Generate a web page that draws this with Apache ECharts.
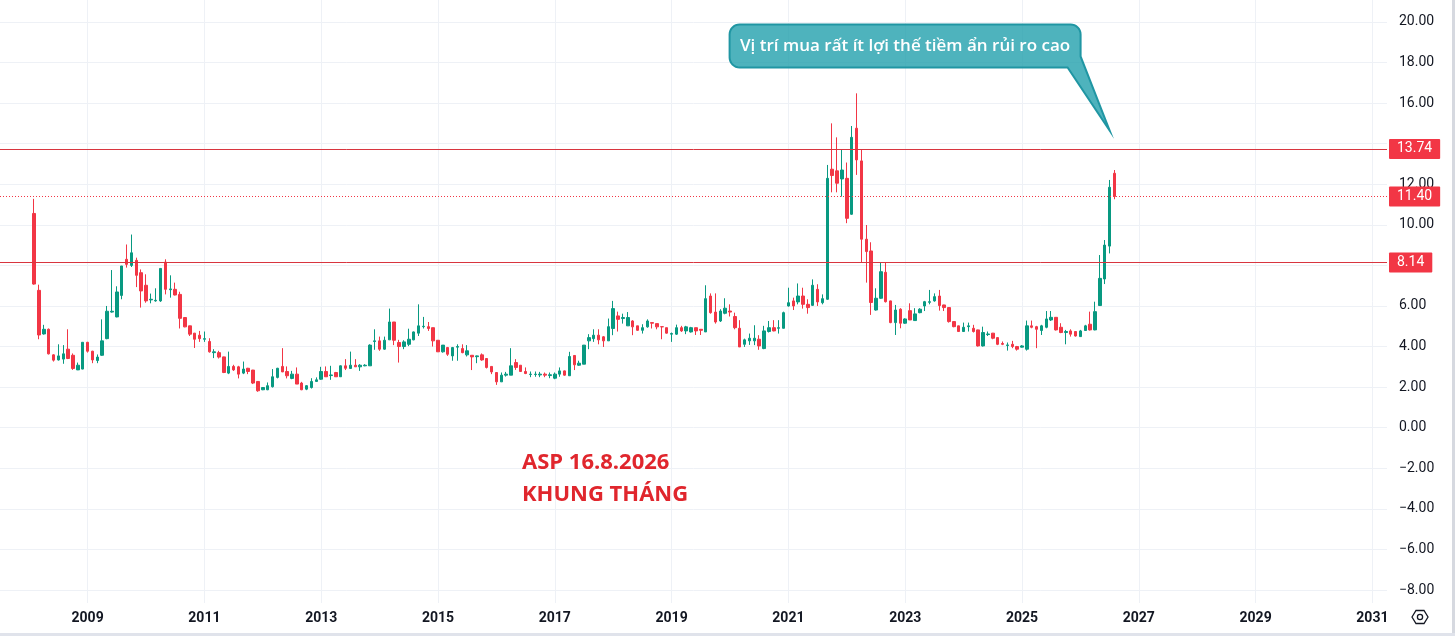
<!DOCTYPE html>
<html><head><meta charset="utf-8">
<script src="https://cdn.jsdelivr.net/npm/echarts@6/dist/echarts.min.js"></script>
<style>html,body{margin:0;padding:0;background:#fff;overflow:hidden}#c{width:1455px;height:636px}</style>
</head><body><div id="c"></div>
<script>
// ---- data (monthly candles, Feb 2008 .. Aug 2026) ----
const firstMonth = '2008-02';
const open = [
  10.56, 6.77, 4.62, 4.85, 3.59, 3.34, 3.38, 3.87, 3.57, 2.85, 2.89,
  4.21, 3.77, 3.31, 3.57, 4.39, 5.70, 5.46, 6.52, 8.30, 8.00, 8.25, 7.64,
  7.02, 6.30, 6.25, 6.25, 8.16, 6.80, 6.82, 6.57, 5.43, 5.02, 4.66, 4.56,
  4.36, 4.25, 3.70, 3.70, 3.49, 2.69, 3.02, 3.00, 2.69, 2.93, 2.84, 2.28,
  1.87, 1.87, 2.02, 2.48, 3.02, 2.77, 2.43, 2.64, 2.20, 1.90, 1.98, 2.28,
  2.39, 2.77, 2.57, 2.72, 2.51, 3.05, 2.92, 3.08, 3.00, 3.05, 3.05, 4.25,
  4.28, 3.87, 4.33, 5.21, 4.20, 4.00, 4.11, 4.33, 4.66, 4.98, 4.98, 4.93,
  4.31, 3.74, 3.95, 3.54, 3.97, 3.90, 3.59, 3.57, 3.50, 3.59, 3.41, 3.02,
  2.72, 2.26, 2.59, 2.59, 3.21, 3.08, 2.77, 2.62, 2.62, 2.60, 2.64, 2.57,
  2.44, 2.64, 2.80, 2.56, 3.56, 3.08, 3.13, 4.28, 4.39, 4.56, 4.48, 4.28,
  4.89, 5.51, 5.38, 5.02, 5.26, 5.02, 4.80, 4.97, 5.18, 5.13, 4.98, 4.93,
  4.61, 4.61, 4.93, 4.77, 4.72, 4.93, 4.85, 4.72, 6.49, 5.70, 5.26, 5.64,
  5.75, 5.48, 4.90, 4.11, 4.28, 4.28, 4.36, 3.90, 4.74, 4.93, 4.90, 4.90,
  6.00, 6.25, 6.20, 6.49, 6.08, 6.03, 6.82, 6.16, 6.33, 12.74, 12.66, 12.26,
  12.29, 10.52, 14.76, 13.15, 9.29, 8.71, 5.80, 6.38, 7.66, 6.25, 5.18, 5.84,
  5.15, 5.77, 5.28, 5.67, 6.00, 6.18, 6.25, 6.49, 6.05, 5.92, 5.23, 5.02,
  4.74, 4.98, 4.90, 4.82, 4.03, 4.59, 4.66, 4.44, 4.15, 4.05, 4.11, 4.00,
  3.97, 3.87, 5.02, 4.98, 4.79, 4.95, 5.31, 5.44, 4.95, 4.69, 4.77, 4.74,
  4.49, 4.79, 5.10, 4.82, 6.02, 7.33, 8.95, 12.54
];
const high = [
  11.28, 7.05, 5.07, 4.89, 3.62, 4.11, 4.07, 4.85, 3.66, 3.21, 4.21,
  4.23, 3.79, 3.61, 5.34, 6.00, 7.77, 6.97, 7.97, 9.03, 9.52, 8.38, 7.80,
  7.56, 6.61, 6.87, 7.85, 8.30, 7.51, 7.15, 6.70, 5.45, 5.03, 4.67, 4.77,
  4.74, 4.41, 3.87, 3.79, 3.50, 3.75, 3.10, 3.05, 3.26, 2.95, 2.85, 2.30,
  2.00, 2.23, 2.89, 2.95, 3.92, 3.02, 2.80, 2.97, 2.26, 2.10, 2.44, 2.48,
  3.00, 3.02, 3.05, 2.75, 3.07, 3.38, 3.75, 3.38, 3.13, 3.13, 4.11, 4.85,
  4.49, 4.49, 5.87, 5.21, 4.33, 4.31, 4.88, 4.74, 6.08, 5.46, 5.21, 4.93,
  4.31, 4.07, 3.98, 3.98, 4.11, 4.11, 4.07, 3.57, 3.56, 3.66, 3.41, 3.02,
  2.72, 2.72, 2.75, 3.92, 3.38, 3.08, 2.97, 2.77, 2.77, 2.75, 2.72, 2.72,
  2.72, 2.97, 2.82, 3.74, 3.56, 3.30, 4.07, 4.61, 4.85, 4.85, 4.52, 5.38,
  6.25, 5.72, 5.62, 5.70, 5.30, 5.02, 5.10, 5.34, 5.18, 5.13, 4.98, 4.93,
  4.69, 5.08, 5.02, 5.02, 4.97, 4.93, 4.85, 7.02, 6.62, 6.62, 5.84, 6.38,
  6.08, 5.67, 5.30, 4.39, 4.64, 5.05, 4.56, 5.02, 5.26, 5.30, 5.30, 5.72,
  6.90, 6.41, 7.11, 6.90, 6.33, 7.31, 7.07, 6.57, 12.95, 15.00, 14.31, 13.69,
  13.07, 14.87, 16.48, 13.69, 9.99, 9.14, 6.87, 8.14, 8.14, 6.26, 6.05, 5.89,
  5.39, 6.13, 5.89, 5.89, 6.25, 6.79, 6.62, 6.79, 6.06, 5.93, 5.24, 5.03,
  5.18, 5.18, 5.07, 4.83, 4.98, 4.74, 4.67, 4.45, 4.25, 4.20, 4.28, 4.03,
  4.07, 5.28, 5.28, 5.02, 5.07, 5.75, 5.75, 5.45, 5.15, 4.82, 4.85, 4.76,
  4.82, 5.07, 5.72, 6.21, 8.51, 9.25, 12.21, 12.70
];
const low = [
  7.05, 4.36, 4.59, 3.61, 3.26, 3.31, 3.15, 3.38, 2.85, 2.84, 2.88,
  3.70, 3.18, 3.18, 3.54, 4.36, 5.67, 5.44, 6.33, 7.89, 7.92, 6.93, 5.92,
  6.16, 6.13, 6.21, 6.20, 6.57, 6.41, 6.52, 4.89, 4.95, 4.52, 3.93, 4.23,
  4.23, 3.70, 3.43, 3.41, 2.69, 2.64, 2.80, 2.43, 2.64, 2.64, 2.15, 1.77,
  1.85, 1.85, 1.98, 2.43, 2.74, 2.43, 2.39, 2.15, 1.85, 1.85, 1.93, 2.26,
  2.36, 2.50, 2.36, 2.50, 2.50, 2.84, 2.90, 3.00, 2.80, 3.03, 3.05, 3.84,
  3.79, 3.84, 4.33, 4.07, 3.21, 3.87, 4.02, 4.31, 4.52, 4.89, 4.77, 4.00,
  3.74, 3.70, 3.54, 3.30, 3.30, 3.67, 3.51, 2.84, 3.18, 3.30, 2.92, 2.64,
  2.11, 2.26, 2.52, 2.59, 2.85, 2.75, 2.64, 2.49, 2.51, 2.49, 2.49, 2.44,
  2.39, 2.51, 2.56, 2.56, 2.84, 3.05, 3.13, 3.87, 4.23, 4.11, 3.98, 4.28,
  4.56, 4.74, 5.13, 5.02, 4.56, 4.77, 4.64, 4.93, 4.89, 4.85, 4.36, 4.64,
  4.23, 4.57, 4.72, 4.61, 4.69, 4.57, 4.57, 4.72, 5.62, 5.13, 5.21, 5.59,
  5.48, 4.85, 3.98, 3.98, 4.08, 4.07, 3.84, 3.87, 4.69, 4.75, 4.64, 4.89,
  5.97, 5.80, 6.08, 5.87, 5.62, 6.00, 6.00, 6.08, 6.30, 11.60, 11.60, 11.39,
  10.08, 10.49, 12.46, 8.14, 7.15, 5.56, 5.77, 6.35, 6.17, 5.15, 4.57, 4.90,
  5.12, 5.31, 5.28, 5.64, 5.75, 6.08, 6.21, 5.77, 5.75, 5.18, 4.95, 4.74,
  4.73, 4.74, 4.69, 4.00, 4.00, 4.52, 4.36, 4.07, 4.07, 3.80, 3.92, 3.80,
  3.95, 3.80, 4.90, 3.92, 4.57, 4.90, 5.26, 4.79, 4.66, 4.11, 4.49, 4.49,
  4.48, 4.77, 4.79, 4.80, 6.00, 7.08, 8.59, 11.26
];
const close = [
  7.08, 4.57, 4.85, 3.64, 3.33, 3.54, 3.64, 3.41, 2.92, 3.08, 4.21,
  3.77, 3.34, 3.48, 4.28, 5.74, 5.74, 6.69, 7.97, 8.05, 8.62, 7.51, 6.74,
  6.25, 6.33, 6.28, 7.85, 6.82, 6.84, 6.54, 5.39, 4.97, 4.61, 4.36, 4.39,
  4.39, 3.74, 3.74, 3.48, 2.72, 3.02, 2.85, 2.64, 2.89, 2.77, 2.20, 1.82,
  1.98, 2.07, 2.51, 2.93, 2.75, 2.56, 2.64, 2.15, 1.87, 2.07, 2.28, 2.36,
  2.77, 2.51, 2.60, 2.51, 3.05, 2.93, 3.08, 3.00, 3.08, 3.08, 4.07, 4.28,
  3.87, 4.31, 5.21, 4.31, 4.00, 4.23, 4.36, 4.72, 5.02, 5.00, 4.89, 4.28,
  3.74, 4.07, 3.62, 3.95, 4.00, 3.70, 3.79, 3.49, 3.54, 3.34, 2.97, 2.75,
  2.26, 2.59, 2.64, 3.05, 2.97, 2.77, 2.67, 2.64, 2.64, 2.64, 2.59, 2.61,
  2.64, 2.80, 2.59, 3.51, 3.10, 3.18, 4.07, 4.44, 4.56, 4.33, 4.28, 4.98,
  5.87, 5.34, 5.43, 5.43, 4.97, 4.80, 4.93, 5.26, 5.15, 4.97, 4.97, 4.66,
  4.64, 4.93, 4.77, 4.97, 4.93, 4.77, 4.80, 6.36, 5.67, 5.21, 5.75, 5.89,
  5.70, 4.93, 3.98, 4.33, 4.41, 4.41, 4.03, 4.77, 4.93, 4.77, 4.93, 5.67,
  6.16, 6.00, 6.49, 6.08, 5.92, 7.02, 6.20, 6.36, 12.29, 12.43, 12.05, 12.70,
  10.32, 14.31, 13.20, 9.29, 8.68, 6.17, 6.38, 7.69, 6.21, 5.18, 5.80, 5.15,
  5.36, 5.31, 5.61, 5.84, 6.21, 6.21, 6.46, 6.02, 5.92, 5.23, 4.98, 4.74,
  4.95, 5.02, 4.74, 4.03, 4.69, 4.62, 4.41, 4.11, 4.11, 4.08, 4.00, 3.87,
  4.03, 5.02, 4.95, 4.85, 5.02, 5.36, 5.44, 4.82, 4.69, 4.74, 4.61, 4.52,
  4.77, 5.02, 4.82, 5.72, 7.36, 9.00, 11.85, 11.40
];
const levels = [13.74, 8.14];        // horizontal levels drawn by the author
const lastPrice = 11.40;             // last close (dotted price line)
const hiddenTicks = [14];            // tick label covered by the 13.74 price box
const calloutText = 'Vị trí mua rất ít lợi thế tiềm ẩn rủi ro cao';
const calloutAnchor = ['2026-07', 14.65];
const titleLines = ['ASP 16.8.2026', 'KHUNG THÁNG'];

// ---- axis categories: every month from Jul 2007 to Apr 2031 ----
const axisStart = [2007, 7], axisCount = 286;
const cats = [];
for (let i = 0; i < axisCount; i++) {
  const t = axisStart[0] * 12 + axisStart[1] - 1 + i;
  const y = Math.floor(t / 12), m = t % 12 + 1;
  cats.push(y + '-' + (m < 10 ? '0' : '') + m);
}
const off = cats.indexOf(firstMonth);
const candles = cats.map((c, i) => {
  const k = i - off;
  return (k >= 0 && k < open.length) ? [open[k], close[k], low[k], high[k]] : ['-', '-', '-', '-'];
});
const isYearTick = v => v.slice(5) === '01' && (+v.slice(0, 4)) % 2 === 1;

const UP = '#089981', DOWN = '#f23645', LEVEL = '#d8353f', GRID = '#eef1f6', TXT = '#131722';
const lblBox = {
  show: true, position: 'end', distance: 2, formatter: p => p.value.toFixed(2),
  backgroundColor: DOWN, color: '#fff', padding: [3, 8, 3, 8], fontSize: 14,
  fontFamily: 'Roboto', lineHeight: 14, borderRadius: 1
};
function levelSeries(value, lineType, color) {
  return {
    type: 'line', data: [], silent: true, symbol: 'none', z: 3,
    markLine: {
      silent: true, symbol: ['none', 'none'], animation: false,
      lineStyle: {color: color, width: 1, type: lineType, opacity: 1},
      label: lblBox,
      emphasis: {disabled: true},
      data: [{yAxis: value}]
    }
  };
}

const chart = echarts.init(document.getElementById('c'), null, {renderer: 'canvas'});
chart.setOption({
  animation: false,
  backgroundColor: '#fff',
  grid: {left: 0, right: 68, top: 0, bottom: 33, containLabel: false},
  xAxis: {
    type: 'category', data: cats, boundaryGap: false,
    axisLine: {show: false}, axisTick: {show: false},
    axisLabel: {interval: (i, v) => isYearTick(v), formatter: v => v.slice(0, 4),
      margin: 8, color: TXT, fontSize: 14, fontWeight: 'bold', fontFamily: 'Roboto'},
    splitLine: {show: true, interval: (i, v) => isYearTick(v), lineStyle: {color: GRID, width: 1}}
  },
  yAxis: {
    type: 'value', position: 'right', min: -8.64, max: 21.08, splitNumber: 14, scale: false,
    axisLine: {show: false}, axisTick: {show: false},
    axisLabel: {formatter: v => hiddenTicks.indexOf(v) >= 0 ? '' : (v < 0 ? '\u2212' : '') + Math.abs(v).toFixed(2),
      showMinLabel: false, showMaxLabel: false, margin: 12, padding: [3, 0, 0, 0],
      color: TXT, fontSize: 14, fontFamily: 'Roboto'},
    splitLine: {show: true, showMinLine: false, showMaxLine: false, lineStyle: {color: GRID, width: 1}}
  },
  series: [
    {
      type: 'candlestick', data: candles, barWidth: 3,
      itemStyle: {color: UP, color0: DOWN, borderColor: UP, borderColor0: DOWN, borderWidth: 1}
    },
    levelSeries(levels[0], 'solid', LEVEL),
    levelSeries(levels[1], 'solid', LEVEL),
    levelSeries(lastPrice, [1, 2], DOWN)
  ]
});

// ---- annotations ----
const tip = chart.convertToPixel({xAxisIndex: 0, yAxisIndex: 0}, calloutAnchor);
const L = tip[0] - 380, R = tip[0] - 29, T = tip[1] - 106, B = tip[1] - 63, r = 10;
const pts = [];
function arc(cx, cy, a0, a1) {
  for (let s = 0; s <= 8; s++) {
    const a = (a0 + (a1 - a0) * s / 8) * Math.PI / 180;
    pts.push([cx + r * Math.cos(a), cy + r * Math.sin(a)]);
  }
}
arc(L + r, T + r, 180, 270);
arc(R - r, T + r, 270, 360);
pts.push([R, B - 11]);
pts.push([tip[0], tip[1]]);
pts.push([R - 13, B]);
arc(L + r, B - r, 90, 180);

chart.setOption({
  graphic: [
    {type: 'polygon', z: 100, shape: {points: pts},
      style: {fill: 'rgba(34,160,172,0.8)', stroke: '#2096a3', lineWidth: 2}},
    {type: 'text', z: 101, x: (L + R) / 2, y: (T + B) / 2,
      style: {text: calloutText, fill: '#fff', font: '600 17px "Open Sans"', align: 'center', verticalAlign: 'middle'}},
    {type: 'text', z: 101, left: 522, top: 447,
      style: {text: titleLines.join('\n'), fill: '#e0262d', font: 'bold 22px "Open Sans"', lineHeight: 32}},
    {type: 'rect', z: 100, shape: {x: 1452, y: 0, width: 3, height: 636}, style: {fill: '#d6d9e0'}},
    {type: 'rect', z: 100, shape: {x: 0, y: 633, width: 1455, height: 3}, style: {fill: '#e0e3eb'}},
    {type: 'polygon', z: 100, shape: {points: [[1412, 617], [1416, 610.5], [1424, 610.5], [1428, 617], [1424, 623.5], [1416, 623.5]]},
      style: {fill: 'none', stroke: TXT, lineWidth: 1.3}},
    {type: 'circle', z: 100, shape: {cx: 1420, cy: 617, r: 2.6}, style: {fill: 'none', stroke: TXT, lineWidth: 1.3}}
  ]
});
</script>
</body></html>
